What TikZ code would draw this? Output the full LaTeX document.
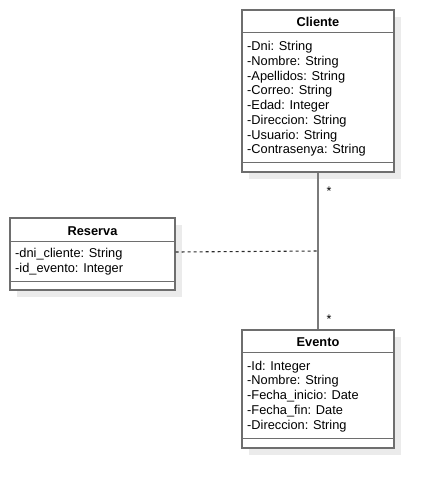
\documentclass[tikz,border=0pt]{standalone}
\usepackage{fontspec}
\setmainfont{Liberation Sans}
\usetikzlibrary{shadows}
\definecolor{boxgray}{HTML}{6E6E6E}
\definecolor{linegray}{HTML}{7A7A7A}
\definecolor{shadowgray}{HTML}{EBEBEB}
\definecolor{dashgray}{HTML}{2A2A2A}
\begin{document}
\begin{tikzpicture}[x=1pt,y=-1pt,
  classbox/.style={draw=boxgray, line width=1.3pt, fill=white, inner sep=0pt,
    drop shadow={shadow xshift=7pt, shadow yshift=-7pt, fill=shadowgray, opacity=1}},
  sepline/.style={draw=boxgray, line width=1.3pt},
  classtitle/.style={font=\fontsize{12.8}{15}\selectfont\bfseries, anchor=base, inner sep=0pt},
  attr/.style={font=\fontsize{12.8}{15}\selectfont, anchor=base west, inner sep=0pt},
  mult/.style={font=\fontsize{12.5}{14}\selectfont, anchor=base, inner sep=0pt},
  assoc/.style={draw=linegray, line width=1.3pt},
  depline/.style={draw=dashgray, line width=1.1pt, dash pattern=on 3pt off 3pt}]
\useasboundingbox (0,0) rectangle (434,487);

% Cliente
\node[classbox, minimum width=152pt, minimum height=162pt] (cliente) at (318,91) {};
\draw[sepline] ([yshift=-23pt]cliente.north west) -- ([yshift=-23pt]cliente.north east);
\draw[sepline] ([yshift=10pt]cliente.south west) -- ([yshift=10pt]cliente.south east);
\node[classtitle] (clienteT) at (318,26.7) {Cliente};
\foreach \t [count=\i] in {-Dni: String,-Nombre: String,-Apellidos: String,-Correo: String,-Edad: Integer,-Direccion: String,-Usuario: String,-Contrasenya: String}
  \node[attr] (cl\i) at (247,{50.7+14.75*(\i-1)}) {\t};

% Reserva
\node[classbox, minimum width=165pt, minimum height=72pt] (reserva) at (92.5,254) {};
\draw[sepline] ([yshift=-24pt]reserva.north west) -- ([yshift=-24pt]reserva.north east);
\draw[sepline] ([yshift=9pt]reserva.south west) -- ([yshift=9pt]reserva.south east);
\node[classtitle] (reservaT) at (92.5,235) {Reserva};
\node[attr] (re1) at (15,257.3) {-dni\_cliente: String};
\node[attr] (re2) at (15,272.5) {-id\_evento: Integer};

% Evento
\node[classbox, minimum width=152pt, minimum height=118pt] (evento) at (318,389) {};
\draw[sepline] ([yshift=-23pt]evento.north west) -- ([yshift=-23pt]evento.north east);
\draw[sepline] ([yshift=10pt]evento.south west) -- ([yshift=10pt]evento.south east);
\node[classtitle] (eventoT) at (318,346.7) {Evento};
\foreach \t [count=\i] in {-Id: Integer,-Nombre: String,-Fecha\_inicio: Date,-Fecha\_fin: Date,-Direccion: String}
  \node[attr] (ev\i) at (247,{370+14.75*(\i-1)}) {\t};

% Association
\draw[assoc] (cliente.south) -- (evento.north);
\coordinate (mid) at (318,251);
\draw[depline] ([yshift=2pt]reserva.east) -- (mid);
\node[mult] (m1) at (329,195) {*};
\node[mult] (m2) at (329,323) {*};
\end{tikzpicture}
\end{document}
